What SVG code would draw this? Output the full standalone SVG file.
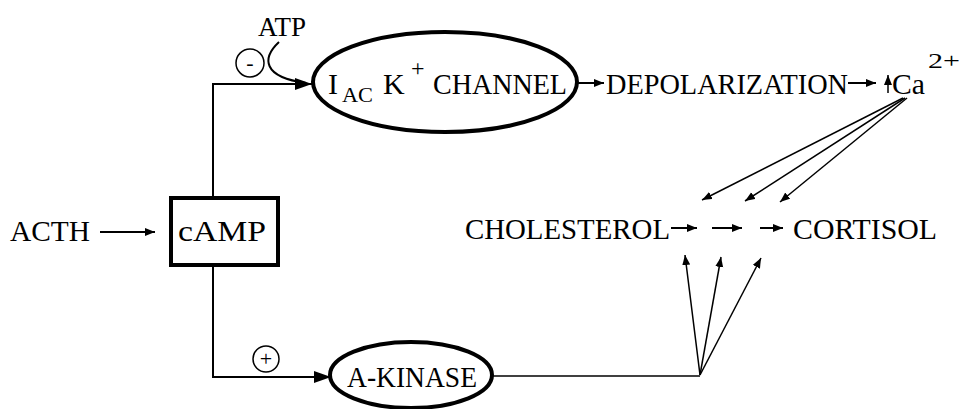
<svg xmlns="http://www.w3.org/2000/svg" width="964" height="409" viewBox="0 0 964 409">
<style>
text{font-family:"Liberation Serif","Times New Roman",serif;fill:#000;}
.t{font-size:30px;}
.s{font-size:22px;}
.ln{fill:none;stroke:#000;stroke-width:2;}
.thin{fill:none;stroke:#000;stroke-width:1.5;}
.node{fill:#fff;stroke:#000;stroke-width:4;}
</style>
<defs>
<marker id="big" markerUnits="userSpaceOnUse" markerWidth="18" markerHeight="14" refX="17" refY="6" orient="auto">
<path d="M0,0 L17,6 L0,12 Z" fill="#000"/>
</marker>
<marker id="sm" markerUnits="userSpaceOnUse" markerWidth="12" markerHeight="10" refX="10" refY="4" orient="auto">
<path d="M0,0 L10,4 L0,8 Z" fill="#000"/>
</marker>
</defs>
<g id="connectors">
<path class="ln" d="M213,198 V84 H312" marker-end="url(#big)"/>
<path class="ln" d="M279,42 C262,58 262,77 306,83"/>
<path class="ln" d="M213,265 V377 H331" marker-end="url(#big)"/>
<path class="ln" d="M100,232 H155" marker-end="url(#sm)"/>
<path class="ln" d="M576,83 H604" marker-end="url(#sm)"/>
<path class="ln" d="M848,83 H876" marker-end="url(#sm)"/>
<path class="thin" d="M888,93 V75" marker-end="url(#sm)"/>
<path class="ln" d="M671,228 H697" marker-end="url(#sm)"/>
<path class="ln" d="M712,228 H742" marker-end="url(#sm)"/>
<path class="ln" d="M760,228 H783" marker-end="url(#sm)"/>
<path class="thin" d="M903,98 L702,200" marker-end="url(#sm)"/>
<path class="thin" d="M905,98 L745,201" marker-end="url(#sm)"/>
<path class="thin" d="M907,98 L780,202" marker-end="url(#sm)"/>
<path class="thin" d="M492,376 H700"/>
<path class="thin" d="M700,375 L685,255" marker-end="url(#sm)"/>
<path class="thin" d="M700,375 L721,257" marker-end="url(#sm)"/>
<path class="thin" d="M700,375 L761,258" marker-end="url(#sm)"/>
</g>
<g id="atp"><text x="258" y="36" textLength="48" lengthAdjust="spacingAndGlyphs" style="font-size:28px">ATP</text></g>
<g id="minus"><circle cx="250" cy="63" r="14" class="thin"/><text x="250" y="70" text-anchor="middle" style="font-size:22px">-</text></g>
<g id="plus"><circle cx="266" cy="359" r="13" class="thin"/><text x="266" y="366" text-anchor="middle" style="font-size:22px">+</text></g>
<g id="acth"><text class="t" x="10" y="241" textLength="80" lengthAdjust="spacingAndGlyphs">ACTH</text></g>
<g id="camp">
<rect class="node" x="171" y="198" width="107" height="67"/>
<text class="t" x="178" y="241" textLength="88" lengthAdjust="spacingAndGlyphs">cAMP</text>
</g>
<g id="channel">
<ellipse class="node" cx="445" cy="82" rx="132" ry="50"/>
<text class="t" x="328" y="94">I</text>
<text class="s" x="342" y="102" textLength="31" lengthAdjust="spacingAndGlyphs">AC</text>
<text class="t" x="383" y="94">K</text>
<text class="s" x="411" y="76" style="font-size:24px">+</text>
<text class="t" x="433" y="94" textLength="134" lengthAdjust="spacingAndGlyphs">CHANNEL</text>
</g>
<g id="depol"><text class="t" x="606" y="94" textLength="242" lengthAdjust="spacingAndGlyphs">DEPOLARIZATION</text></g>
<g id="ca">
<text class="t" x="892" y="94" textLength="33" lengthAdjust="spacingAndGlyphs">Ca</text>
<text class="s" x="928" y="68" textLength="32" lengthAdjust="spacingAndGlyphs">2+</text>
</g>
<g id="cholesterol"><text class="t" x="465" y="239" textLength="205" lengthAdjust="spacingAndGlyphs">CHOLESTEROL</text></g>
<g id="cortisol"><text class="t" x="793" y="239" textLength="144" lengthAdjust="spacingAndGlyphs">CORTISOL</text></g>
<g id="akinase">
<ellipse class="node" cx="411" cy="375" rx="81" ry="33"/>
<text class="t" x="347" y="387" textLength="130" lengthAdjust="spacingAndGlyphs">A-KINASE</text>
</g>
</svg>
